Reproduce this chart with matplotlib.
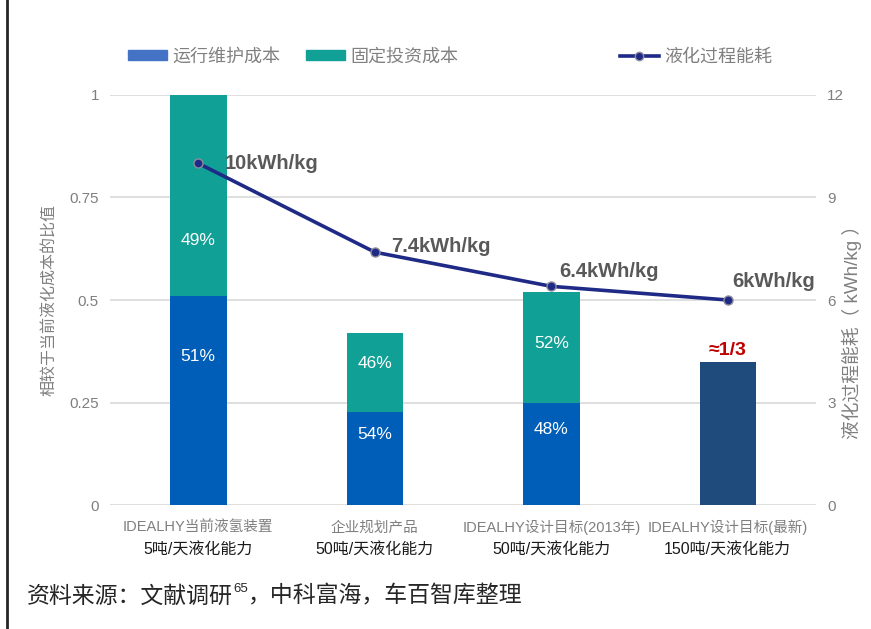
import numpy as np
import matplotlib.pyplot as plt
from matplotlib.patches import Patch
from matplotlib.lines import Line2D

plt.rcParams['font.family'] = ['Liberation Sans', 'Noto Sans CJK SC', 'DejaVu Sans']

cats_top = ["IDEALHY当前液氢装置", "企业规划产品", "IDEALHY设计目标(2013年)", "IDEALHY设计目标(最新)"]
cats_bottom = ["5吨/天液化能力", "50吨/天液化能力", "50吨/天液化能力", "150吨/天液化能力"]
totals = [1.0, 0.42, 0.52, 0.35]
om_share = [0.51, 0.54, 0.48]       # 运行维护成本 share of first three bars
fixed_share = [0.49, 0.46, 0.52]    # 固定投资成本 share
energy = [10, 7.4, 6.4, 6]
energy_labels = ["10kWh/kg", "7.4kWh/kg", "6.4kWh/kg", "6kWh/kg"]

blue = "#005EB8"
teal = "#11A095"
dark = "#1F4A7C"
navy = "#1F2A86"
grey = "#7F7F7F"

fig = plt.figure(figsize=(8.71, 6.29), dpi=100)
ax = fig.add_axes([0.1263, 0.1971, 0.8106, 0.6519])
ax2 = ax.twinx()

x = np.arange(len(totals))
w = 0.32
om = [t * s for t, s in zip(totals[:3], om_share)]
fx = [t * s for t, s in zip(totals[:3], fixed_share)]
ax.bar(x[:3], om, w, color=blue, zorder=2)
ax.bar(x[:3], fx, w, bottom=om, color=teal, zorder=2)
ax.bar(x[3], totals[3], w, color=dark, zorder=2)

# percentage labels (positions roughly as in the source)
top_pos = [0.646, 0.344, 0.393]
bot_pos = [0.363, 0.171, 0.183]
for i in range(3):
    ax.text(x[i], top_pos[i], f"{round(fixed_share[i]*100)}%", color="white",
            ha="center", va="center", fontsize=12.5, zorder=3)
    ax.text(x[i], bot_pos[i], f"{round(om_share[i]*100)}%", color="white",
            ha="center", va="center", fontsize=12.5, zorder=3)
ax.text(x[3], totals[3] + 0.005, "≈1/3", color="#C00000", fontweight="bold",
        ha="center", va="bottom", fontsize=14)

ax.set_xlim(-0.5, 3.5)
ax.set_ylim(0, 1)
ax.set_yticks([0, 0.25, 0.5, 0.75, 1])
ax.set_yticklabels(["0", "0.25", "0.5", "0.75", "1"])
ax.grid(axis="y", color="#D9D9D9", linewidth=1.2, zorder=0)
ax.set_axisbelow(True)
ax.set_xticks(x)
ax.set_xticklabels([])
ax.tick_params(length=0, labelsize=11, labelcolor=grey, pad=8)

ax2.plot(x, energy, color=navy, linewidth=2.6, marker="o", markersize=6.5,
         markerfacecolor=navy, markeredgecolor="#8C8C9C", markeredgewidth=1, zorder=5)
ax2.set_ylim(0, 12)
ax2.set_yticks([0, 3, 6, 9, 12])
ax2.tick_params(length=0, labelsize=11, labelcolor=grey, pad=8)
offs = [(19, 0), (12, 4), (6, 11), (3, 13)]
for i, (lab, o) in enumerate(zip(energy_labels, offs)):
    ax2.annotate(lab, (x[i], energy[i]), xytext=o, textcoords="offset points",
                 ha="left", va="center", fontsize=14.5, fontweight="bold", color="#595959")

for a in (ax, ax2):
    for s in a.spines.values():
        s.set_visible(False)

ax.set_ylabel("相较于当前液化成本的比值", color=grey, fontsize=11.5)
ax.yaxis.set_label_coords(-0.075, 0.5)
ax2.set_ylabel("液化过程能耗（ kWh/kg ）", color=grey, fontsize=13.5, rotation=90)
ax2.yaxis.set_label_coords(1.036, 0.434)

# category labels in two lines
for i in range(4):
    ax.annotate(cats_top[i], (x[i], 0), xytext=(0, -16), textcoords="offset points",
                ha="center", va="center", fontsize=10.5, color=grey, annotation_clip=False)
    ax.annotate(cats_bottom[i], (x[i], 0), xytext=(0, -32.5), textcoords="offset points",
                ha="center", va="center", fontsize=11.5, color="#1A1A1A", annotation_clip=False)

# legend entries placed like the source
handles = [Patch(color="#4472C4"), Patch(color=teal),
           Line2D([], [], color=navy, linewidth=2.6, marker="o", markersize=6,
                  markerfacecolor=navy, markeredgecolor="#8C8C9C")]
names = ["运行维护成本", "固定投资成本", "液化过程能耗"]
lx = [128 / 871, 306 / 871, 620 / 871]
for h, n, px in zip(handles, names, lx):
    fig.legend([h], [n], loc="center left", bbox_to_anchor=(px, 1 - 57 / 629),
               frameon=False, fontsize=13, labelcolor="#808080", handlelength=2.15,
               handleheight=0.45, handletextpad=0.28, borderpad=0, borderaxespad=0)

# source note with superscript reference number
src = fig.text(27 / 871, 1 - 596 / 629, "资料来源：文献调研", fontsize=16.5,
               color="#262626", ha="left", va="center")
sup = plt.annotate("65", xy=(1, 0.55), xycoords=src, fontsize=9.5, color="#262626",
                   ha="left", va="bottom")
plt.annotate("，中科富海，车百智库整理", xy=(1, 0), xycoords=(sup, src),
             fontsize=16.5, color="#262626", ha="left", va="bottom")
fig.add_artist(Line2D([0.008, 0.008], [0, 1], color="#262626", linewidth=2, transform=fig.transFigure))

fig.savefig("out.png", dpi=100)
